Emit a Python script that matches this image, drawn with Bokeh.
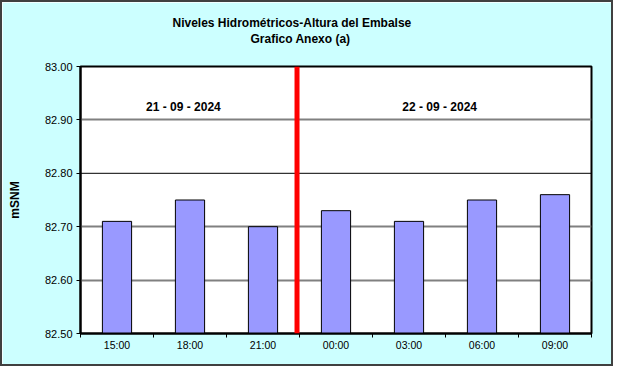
from bokeh.plotting import figure
from bokeh.models import FixedTicker, Span, Label, Title, PrintfTickFormatter, Range1d, ColumnDataSource
from bokeh.embed import file_html
from bokeh.resources import INLINE

# ---- data ----
hours = ["15:00", "18:00", "21:00", "00:00", "03:00", "06:00", "09:00"]
levels = [82.71, 82.75, 82.70, 82.73, 82.71, 82.75, 82.76]
y_ticks = [82.50, 82.60, 82.70, 82.80, 82.90, 83.00]
dates = ["21 - 09 - 2024", "22 - 09 - 2024"]
title_lines = ["Niveles Hidrométricos-Altura del Embalse", "Grafico Anexo (a)"]
y_label = "mSNM"

FONT = "Liberation Sans"
xpos = [i + 0.5 for i in range(len(hours))]
src = ColumnDataSource(dict(x=xpos, top=levels, hour=hours))

p = figure(width=613, height=366, output_backend="svg", toolbar_location=None,
           title=None, x_range=Range1d(0, len(hours)), y_range=Range1d(y_ticks[0], y_ticks[-1]),
           min_border_left=78, min_border_right=24, min_border_top=64, min_border_bottom=35)
p.background_fill_color = "white"
p.border_fill_color = "#CCFFFF"
p.outline_line_color = "black"
p.outline_line_width = 2
p.styles = {"border": "2px solid #404040"}

p.vbar(x="x", top="top", bottom=y_ticks[0], width=0.4, source=src,
       fill_color="#9999FF", line_color="black", line_width=1)

# grid
p.xgrid.visible = False
p.ygrid.ticker = FixedTicker(ticks=[t for t in y_ticks[1:-1] if abs(t - 82.80) > 1e-9])
p.ygrid.grid_line_color = "#808080"
p.ygrid.grid_line_width = 2
p.add_layout(Span(location=y_ticks[3], dimension="width", line_color="black", line_width=1))

# day separator
p.add_layout(Span(location=2.966, dimension="height", line_color="#FF0000", line_width=5))

# y axis
p.yaxis.ticker = FixedTicker(ticks=y_ticks)
p.yaxis.formatter = PrintfTickFormatter(format="%.2f")
p.yaxis.major_tick_out = 4
p.yaxis.major_tick_in = 0
p.yaxis.minor_tick_line_color = None
p.yaxis.axis_line_width = 2
p.yaxis.axis_line_color = "black"
p.yaxis.major_tick_line_color = "black"
p.yaxis.major_label_text_font = FONT
p.yaxis.major_label_text_font_size = "11px"
p.yaxis.major_label_text_color = "black"
p.yaxis.major_label_standoff = 4
p.yaxis.axis_label = y_label
p.yaxis.axis_label_text_font = FONT
p.yaxis.axis_label_text_font_size = "12px"
p.yaxis.axis_label_text_font_style = "bold"
p.yaxis.axis_label_text_color = "black"
p.yaxis.axis_label_standoff = 20

# x axis
p.xaxis.ticker = FixedTicker(ticks=xpos, minor_ticks=list(range(len(hours) + 1)))
p.xaxis.major_label_overrides = {x: h for x, h in zip(xpos, hours)}
p.xaxis.major_tick_out = 0
p.xaxis.major_tick_in = 0
p.xaxis.minor_tick_out = 4
p.xaxis.minor_tick_in = 0
p.xaxis.minor_tick_line_color = "black"
p.xaxis.axis_line_width = 2
p.xaxis.axis_line_color = "black"
p.xaxis.major_label_text_font = FONT
p.xaxis.major_label_text_font_size = "10.5px"
p.xaxis.major_label_text_color = "black"
p.xaxis.major_label_standoff = 1

# date labels
for xd, d in zip([1.41, 4.92], dates):
    p.add_layout(Label(x=xd, y=82.924, text=d, text_align="center", text_baseline="middle",
                       text_font=FONT, text_font_size="12px", text_font_style="bold",
                       text_color="black"))

# spacer between the frame and the two title lines
p.add_layout(Title(text=" ", standoff=0, text_font=FONT, text_font_size="17px"), "above")
# title lines (inner line added first, stacked outward)
p.add_layout(Title(text=title_lines[1], align="left", offset=170, standoff=0,
                   text_font=FONT, text_font_size="12px", text_font_style="bold",
                   text_color="black"), "above")
p.add_layout(Title(text=title_lines[0], align="left", offset=92, standoff=0,
                   text_font=FONT, text_font_size="12px", text_font_style="bold",
                   text_color="black"), "above")

open("out.html", "w").write(file_html(p, INLINE))
